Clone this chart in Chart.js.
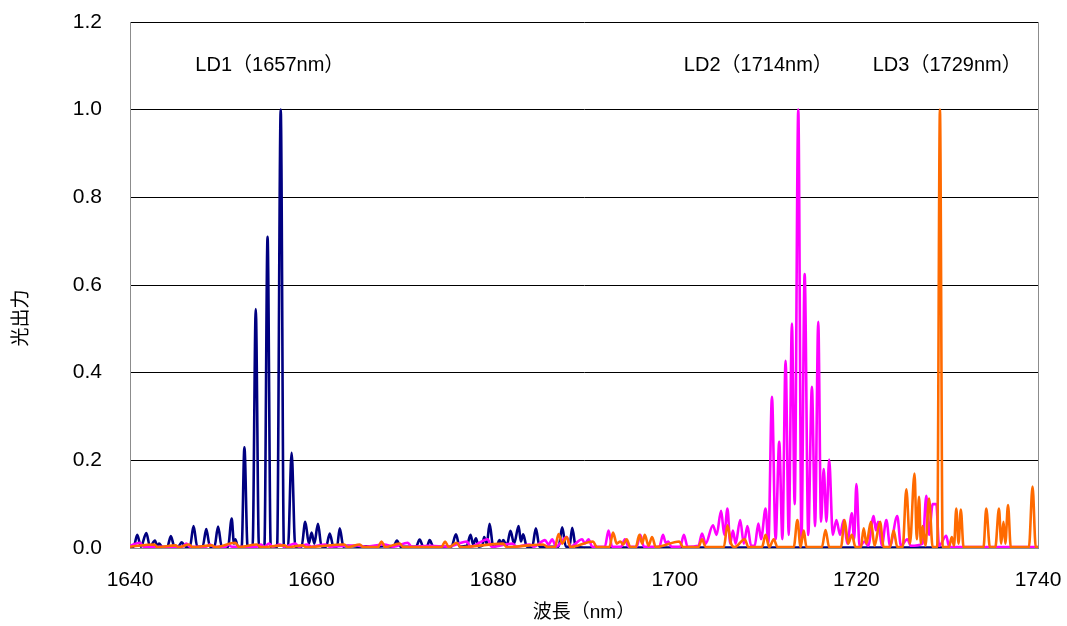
<!DOCTYPE html>
<html>
<head>
<meta charset="utf-8">
<script src="https://cdn.jsdelivr.net/npm/chart.js@4"></script>
<style>
  html, body { margin: 0; padding: 0; background: #fff; }
  #wrap { width: 1067px; height: 626px; }
</style>
</head>
<body>
<div id="wrap"><canvas id="spectrum"></canvas></div>
<script>
// wavelength (nm), relative optical power
const ld1Spectrum = [
  [1640,0.003],[1640.4,0.003],[1640.8,0.03],[1641.2,0.003],[1641.8,0.034],[1642.2,0.003],[1642.75,0.017],[1643.0,0.004],
  [1643.2,0.01],[1643.6,0.002],[1644.1,0.002],[1644.5,0.027],[1644.9,0.002],[1645.4,0.005],[1645.7,0.013],[1646.1,0.003],
  [1646.6,0.003],[1647.0,0.05],[1647.4,0.003],[1648.0,0.003],[1648.4,0.043],[1648.8,0.003],[1649.3,0.003],[1649.7,0.049],
  [1650.1,0.003],[1650.8,0.003],[1651.2,0.067],[1651.45,0.01],[1651.6,0.02],[1651.9,0.002],[1652.3,0.002],[1652.6,0.23],
  [1652.95,0.002],[1653.5,0.002],[1653.85,0.545],[1654.2,0.002],[1654.8,0.002],[1655.15,0.71],[1655.5,0.002],[1656.2,0.002],
  [1656.6,1.0],[1656.95,0.002],[1657.4,0.002],[1657.8,0.217],[1658.2,0.002],[1658.9,0.003],[1659.3,0.06],[1659.7,0.01],
  [1660.0,0.035],[1660.3,0.01],[1660.7,0.055],[1661.1,0.003],[1661.6,0.003],[1662.0,0.033],[1662.4,0.003],[1662.8,0.003],
  [1663.1,0.045],[1663.5,0.003],[1664,0.005],[1665,0.003],[1666,0.004],[1667,0.003],[1668,0.004],[1669.0,0.003],
  [1669.4,0.017],[1669.8,0.003],[1671.5,0.003],[1671.9,0.019],[1672.3,0.003],[1672.7,0.003],[1673.0,0.018],[1673.4,0.003],
  [1675.4,0.003],[1675.9,0.031],[1676.3,0.003],[1677.1,0.005],[1677.5,0.03],[1677.8,0.008],[1678.1,0.022],[1678.4,0.003],
  [1678.8,0.005],[1679.0,0.025],[1679.3,0.01],[1679.6,0.055],[1680.0,0.003],[1680.4,0.005],[1680.7,0.018],[1680.9,0.008],
  [1681.1,0.018],[1681.5,0.006],[1681.9,0.039],[1682.3,0.01],[1682.8,0.05],[1683.05,0.015],[1683.3,0.031],[1683.7,0.003],
  [1684.3,0.003],[1684.7,0.045],[1685.1,0.003],[1687.2,0.003],[1687.6,0.047],[1688.0,0.003],[1688.4,0.003],[1688.7,0.046],
  [1689.1,0.002],[1690,0.001],[1740,0.001]
];

const ld2Spectrum = [
  [1640,0.005],[1641.1,0.012],[1641.5,0.003],[1645.8,0.003],[1646.2,0.01],[1646.6,0.003],[1648.4,0.003],[1648.8,0.008],
  [1649.2,0.003],[1650.5,0.003],[1650.8,0.008],[1651.2,0.003],[1654.0,0.003],[1654.4,0.008],[1654.8,0.003],[1655.3,0.01],
  [1655.7,0.003],[1656.5,0.008],[1657,0.003],[1658.2,0.01],[1658.6,0.003],[1659.5,0.008],[1660,0.003],[1661.5,0.008],
  [1662,0.003],[1665,0.006],[1666,0.003],[1668,0.008],[1669,0.003],[1670.6,0.012],[1671,0.003],[1673,0.005],
  [1675,0.003],[1677.1,0.015],[1677.5,0.003],[1679.4,0.02],[1679.8,0.003],[1682.1,0.01],[1682.6,0.003],[1684.0,0.008],
  [1684.5,0.003],[1685.7,0.018],[1686.1,0.008],[1686.5,0.02],[1686.9,0.003],[1688.1,0.025],[1688.5,0.003],[1689.8,0.02],
  [1690.1,0.01],[1690.5,0.02],[1690.9,0.003],[1692.3,0.003],[1692.7,0.04],[1693.1,0.003],[1694.1,0.003],[1694.5,0.02],
  [1694.9,0.003],[1695.8,0.003],[1696.2,0.03],[1696.6,0.003],[1698.3,0.003],[1698.7,0.03],[1699.0,0.012],[1699.3,0.015],
  [1699.6,0.003],[1700.6,0.003],[1701.0,0.03],[1701.4,0.003],[1702.6,0.005],[1703.0,0.033],[1703.4,0.01],[1704.2,0.052],
  [1704.6,0.03],[1705.1,0.085],[1705.45,0.03],[1705.8,0.09],[1706.1,0.01],[1706.4,0.04],[1706.7,0.01],[1707.2,0.064],
  [1707.6,0.01],[1708.0,0.05],[1708.4,0.005],[1708.8,0.005],[1709.2,0.056],[1709.5,0.02],[1710.0,0.09],[1710.3,0.01],
  [1710.7,0.345],[1711.1,0.02],[1711.5,0.242],[1711.85,0.02],[1712.2,0.427],[1712.55,0.03],[1712.9,0.512],[1713.2,0.1],
  [1713.6,1.0],[1713.95,0.02],[1714.3,0.625],[1714.7,0.03],[1715.1,0.368],[1715.45,0.05],[1715.8,0.516],[1716.1,0.06],
  [1716.4,0.18],[1716.7,0.06],[1717.0,0.202],[1717.4,0.03],[1717.8,0.064],[1718.2,0.03],[1718.6,0.064],[1719.0,0.01],
  [1719.5,0.079],[1719.75,0.02],[1720.0,0.146],[1720.35,0.003],[1720.9,0.015],[1721.3,0.005],[1721.9,0.073],[1722.15,0.04],
  [1722.4,0.06],[1722.8,0.005],[1723.3,0.064],[1723.7,0.005],[1724.5,0.073],[1724.9,0.005],[1725.6,0.02],[1726,0.005],
  [1727.3,0.01],[1727.7,0.119],[1728.0,0.03],[1728.4,0.1],[1728.8,0.1],[1729.1,0.005],[1729.9,0.028],[1730.2,0.003],
  [1740,0.002]
];

const ld3Spectrum = [
  [1640,0.003],[1642.7,0.008],[1643,0.002],[1645,0.006],[1645.4,0.002],[1646.5,0.008],[1646.9,0.002],[1649,0.006],
  [1649.4,0.002],[1651.6,0.012],[1652,0.002],[1654,0.008],[1654.4,0.002],[1657,0.006],[1657.4,0.002],[1659,0.006],
  [1659.4,0.002],[1663.6,0.008],[1664,0.002],[1665.3,0.008],[1665.7,0.002],[1667.3,0.002],[1667.7,0.015],[1668.1,0.002],
  [1669.7,0.01],[1670.1,0.002],[1674.3,0.002],[1674.7,0.015],[1675.1,0.002],[1676,0.012],[1676.4,0.002],[1681.1,0.01],
  [1681.5,0.002],[1684,0.006],[1685.5,0.008],[1686,0.002],[1686.8,0.002],[1687.2,0.032],[1687.6,0.01],[1688.1,0.025],
  [1688.5,0.002],[1691,0.015],[1691.4,0.002],[1692.8,0.002],[1693.2,0.035],[1693.6,0.01],[1694.0,0.015],[1694.3,0.008],
  [1694.7,0.02],[1695.1,0.002],[1695.7,0.002],[1696.1,0.03],[1696.4,0.01],[1696.7,0.03],[1697.1,0.005],[1697.5,0.025],
  [1697.9,0.002],[1700.5,0.015],[1700.9,0.002],[1702.6,0.002],[1703.0,0.02],[1703.4,0.002],[1705.4,0.002],[1705.8,0.052],
  [1706.2,0.01],[1706.6,0.002],[1707.7,0.02],[1708.1,0.002],[1709.6,0.002],[1710.0,0.03],[1710.4,0.002],[1710.9,0.02],
  [1711.3,0.002],[1713.1,0.002],[1713.5,0.064],[1713.85,0.002],[1714.2,0.04],[1714.5,0.002],[1716.2,0.002],[1716.6,0.041],
  [1717,0.002],[1718.3,0.002],[1718.7,0.064],[1719.1,0.01],[1719.5,0.03],[1719.9,0.002],[1720.5,0.002],[1720.8,0.045],
  [1721.1,0.01],[1721.6,0.06],[1722.0,0.005],[1722.6,0.06],[1723.0,0.002],[1723.7,0.002],[1724.1,0.04],[1724.5,0.002],
  [1725.1,0.002],[1725.5,0.134],[1725.9,0.01],[1726.4,0.17],[1726.65,0.02],[1726.9,0.117],[1727.1,0.01],[1727.3,0.05],
  [1727.6,0.005],[1728.0,0.113],[1728.4,0.002],[1728.9,0.002],[1729.2,1.0],[1729.5,0.002],[1730.2,0.002],[1730.5,0.025],
  [1730.75,0.005],[1731.0,0.09],[1731.25,0.01],[1731.5,0.088],[1731.8,0.002],[1734.0,0.002],[1734.3,0.09],[1734.7,0.002],
  [1735.3,0.002],[1735.7,0.09],[1735.95,0.01],[1736.2,0.06],[1736.4,0.01],[1736.7,0.098],[1737.0,0.002],[1739.0,0.002],
  [1739.4,0.14],[1739.75,0.002],[1740,0.002]
];

const seriesNames = ['LD1', 'LD2', 'LD3'];
const peakLabels = ['LD1（1657nm）', 'LD2（1714nm）', 'LD3（1729nm）'];
const labelAt = [[1655.4, 1.1], [1709.2, 1.1], [1730.0, 1.1]];

const toXY = arr => arr.map(([x, y]) => ({ x, y }));

const textFont = '"Liberation Sans", "Noto Sans CJK JP", sans-serif';

const lineStyle = {
  borderWidth: 2.6,
  pointRadius: 0,
  fill: false,
  cubicInterpolationMode: 'monotone'
};

// peak labels, y title and the right frame edge
const decor = {
  id: 'decor',
  afterDraw(chart) {
    const { ctx, chartArea, scales } = chart;
    ctx.save();
    ctx.strokeStyle = '#8c8c8c';
    ctx.lineWidth = 1;
    ctx.beginPath();
    ctx.moveTo(chartArea.right + 0.5, chartArea.top);
    ctx.lineTo(chartArea.right + 0.5, chartArea.bottom);
    ctx.stroke();

    ctx.fillStyle = '#000';
    ctx.font = '20px ' + textFont;
    ctx.textAlign = 'center';
    ctx.textBaseline = 'middle';
    peakLabels.forEach((t, i) => {
      ctx.fillText(t, scales.x.getPixelForValue(labelAt[i][0]), scales.y.getPixelForValue(labelAt[i][1]));
    });

    ctx.font = '19px ' + textFont;
    ctx.translate(22, 318);
    ctx.rotate(-Math.PI / 2);
    ctx.fillText('光出力', 0, 0);
    ctx.restore();
  }
};

new Chart(document.getElementById('spectrum'), {
  type: 'line',
  data: {
    datasets: [
      { label: seriesNames[0], data: toXY(ld1Spectrum), borderColor: '#000080', order: 3, ...lineStyle },
      { label: seriesNames[1], data: toXY(ld2Spectrum), borderColor: '#ff00ff', order: 2, ...lineStyle },
      { label: seriesNames[2], data: toXY(ld3Spectrum), borderColor: '#ff6a00', order: 1, ...lineStyle }
    ]
  },
  options: {
    responsive: true,
    maintainAspectRatio: false,
    animation: false,
    layout: { padding: { top: 22, right: 29, left: 0, bottom: 0 } },
    plugins: { legend: { display: false }, tooltip: { enabled: false } },
    scales: {
      x: {
        type: 'linear',
        min: 1640,
        max: 1740,
        afterFit(scale) { scale.height = 78; },
        ticks: { stepSize: 20, padding: 0, color: '#000', font: { family: 'Liberation Sans', size: 21 }, callback: v => String(v) },
        grid: { display: true, drawOnChartArea: false, drawTicks: true, tickLength: 20, tickColor: 'rgba(0,0,0,0)', color: 'rgba(0,0,0,0)' },
        border: { color: '#8c8c8c' },
        title: { display: true, text: '波長（nm）', color: '#000', font: { family: textFont, size: 19 }, padding: { top: 0, bottom: 2 } }
      },
      y: {
        min: 0,
        max: 1.2,
        afterFit(scale) { scale.width = 130; },
        ticks: { stepSize: 0.2, padding: 0, color: '#000', font: { family: 'Liberation Sans', size: 21 }, callback: v => v.toFixed(1) },
        grid: { color: '#000', lineWidth: 1, drawTicks: true, tickLength: 28, tickColor: 'rgba(0,0,0,0)' },
        border: { color: '#8c8c8c' }
      }
    }
  },
  plugins: [decor]
});
</script>
</body>
</html>
